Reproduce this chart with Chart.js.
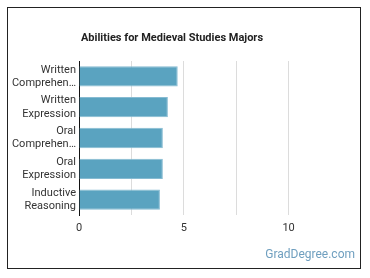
<!DOCTYPE html>
<html><head><meta charset="utf-8">
<script src="https://cdn.jsdelivr.net/npm/chart.js@4"></script>
<style>
html,body{margin:0;padding:0;background:#fff;}
#box{position:absolute;left:7px;top:7px;width:352px;height:260px;border:1px solid #222;background:#fff;}
canvas{display:block;}
</style></head>
<body>
<div id="box"><canvas id="c" width="352" height="260"></canvas></div>
<script>
const categories = [["Written","Comprehen\u2026"],["Written","Expression"],["Oral","Comprehen\u2026"],["Oral","Expression"],["Inductive","Reasoning"]];
const values = [4.71, 4.24, 4.0, 4.0, 3.86];
const tickLabels = ["0","5","10"];
const titleText = "Abilities for Medieval Studies Majors";
const watermark = "GradDegree.com";

const overlay = {
  id:'overlay',
  afterDraw(chart){
    const ctx = chart.ctx;
    ctx.save();
    ctx.fillStyle = '#222';
    ctx.font = 'bold 11px Roboto';
    ctx.textAlign = 'center';
    ctx.textBaseline = 'middle';
    ctx.fillText(titleText, 164, 30);
    ctx.fillStyle = '#6f9fbf';
    ctx.font = '12px Roboto';
    ctx.textAlign = 'right';
    ctx.fillText(watermark, 347, 247);
    ctx.restore();
  }
};

new Chart(document.getElementById('c'), {
  type:'bar',
  data:{labels:categories, datasets:[{data:values, backgroundColor:'#5aa3c0', borderColor:'#86bbd2', borderWidth:1, barPercentage:0.66, categoryPercentage:1}]},
  options:{
    indexAxis:'y', responsive:false, animation:false,
    layout:{padding:{top:53,right:19,bottom:33,left:0}},
    plugins:{legend:{display:false}, tooltip:{enabled:false}},
    scales:{
      x:{min:0,max:12.5,
        ticks:{stepSize:2.5, color:'#333', font:{family:'Roboto',size:11}, padding:7, maxRotation:0,
          callback:(v)=>{const s=String(v); return tickLabels.includes(s)?s:'';}},
        grid:{drawTicks:false, color:(c)=> (c.tick && c.tick.value>0 && c.tick.value<12.5)?'#dcdcdc':'rgba(0,0,0,0)'},
        border:{display:false},
        afterFit:(s)=>{s.height=20;}
      },
      y:{
        ticks:{color:'#333', font:{family:'Roboto',size:11}, padding:3, autoSkip:false},
        grid:{display:false, drawTicks:false},
        border:{display:true,color:'#111',width:1},
        afterFit:(s)=>{s.width=71;}
      }
    }
  },
  plugins:[overlay]
});
</script>
</body></html>
